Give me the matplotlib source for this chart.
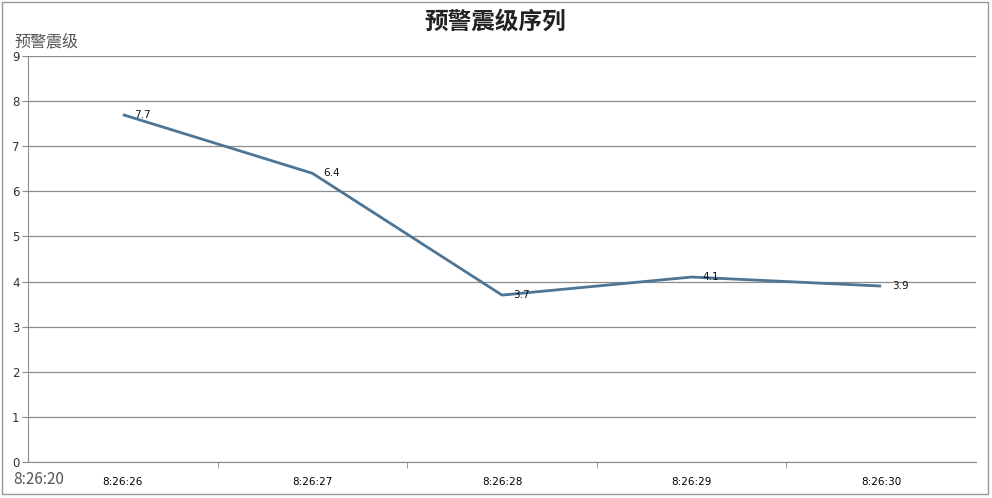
import matplotlib.pyplot as plt
from matplotlib.patches import Rectangle

plt.rcParams['font.family'] = ['DejaVu Sans', 'Noto Sans CJK SC']
cjk = ['Noto Sans CJK SC', 'DejaVu Sans']

times = ["8:26:26", "8:26:27", "8:26:28", "8:26:29", "8:26:30"]
magnitudes = [7.7, 6.4, 3.7, 4.1, 3.9]
y_ticks = list(range(0, 10))

fig = plt.figure(figsize=(9.92, 4.98), dpi=100)
ax = fig.add_axes([28 / 992, 1 - 462 / 498, 948 / 992, 406 / 498])

x = list(range(len(times)))
ax.plot(x, magnitudes, color='#4d7596', linewidth=2.0, solid_capstyle='butt')
for xi, v in zip(x, magnitudes):
    ax.annotate(f"{v}", (xi, v), xytext=(8, 0), textcoords='offset points',
                fontsize=7.5, va='center', ha='left', color='#111111')

ax.set_xlim(-0.5, len(times) - 0.5)
ax.set_ylim(0, 9)
ax.set_yticks(y_ticks)
ax.set_xticks(x)
ax.set_xticklabels(times, fontsize=7.5)
ax.set_xticks([i + 0.5 for i in x[:-1]], minor=True)
ax.tick_params(axis='x', which='major', length=0, pad=11)
ax.tick_params(axis='x', which='minor', length=4, color='#888888')
ax.tick_params(axis='y', length=4, color='#888888', labelsize=8.5, pad=2,
               labelcolor='#333333')
ax.yaxis.grid(True, color='#8c8c8c', linewidth=0.9)
ax.set_axisbelow(True)
for s in ['top', 'right']:
    ax.spines[s].set_visible(False)
for s in ['left', 'bottom']:
    ax.spines[s].set_color('#8c8c8c')

fig.text(495 / 992, 1 - 22 / 498, "预警震级序列", ha='center', va='center',
         fontsize=17, fontweight='bold', color='#222222', family=cjk)
fig.text(14 / 992, 1 - 42 / 498, "预警震级", ha='left', va='center',
         fontsize=11.5, color='#555555', family=cjk)
fig.text(13 / 992, 1 - 479 / 498, "8:26:20", ha='left', va='center',
         fontsize=11, color='#555555', family=cjk)

fig.patches.append(Rectangle((2 / 992, 4 / 498), 986 / 992, 492 / 498,
                             transform=fig.transFigure, fill=False,
                             edgecolor='#999999', linewidth=1))

fig.savefig("out.png", dpi=100)
